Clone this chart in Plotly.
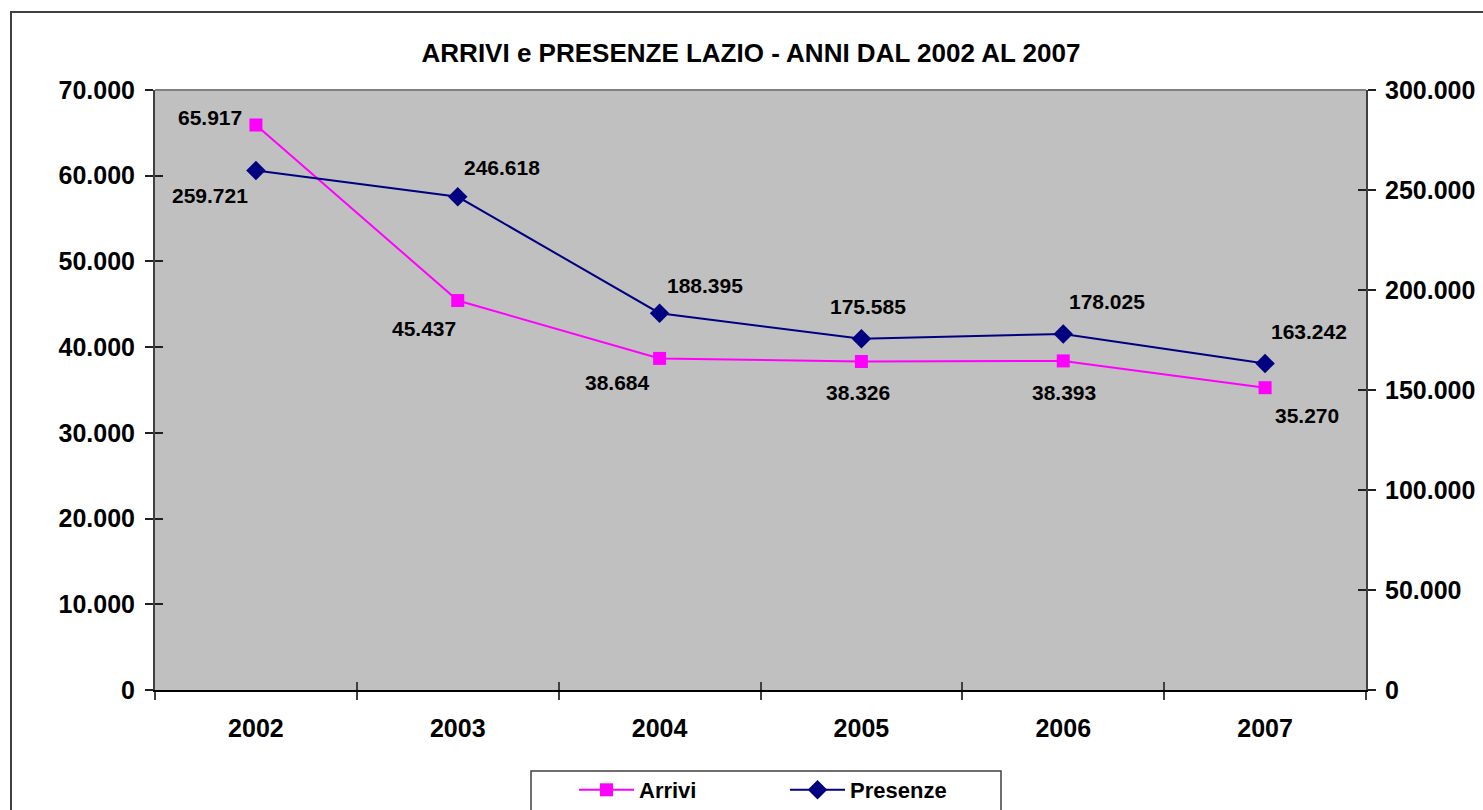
import plotly.graph_objects as go

anni = ["2002", "2003", "2004", "2005", "2006", "2007"]
arrivi = [65917, 45437, 38684, 38326, 38393, 35270]
presenze = [259721, 246618, 188395, 175585, 178025, 163242]

# label offsets (px) for data labels
arrivi_off = [(-46, 8), (-34, -28), (-42, -24), (-3, -31), (1, -32), (42, -28)]
presenze_off = [(-46, -25), (44, 29), (45, 28), (7, 32), (44, 32), (44, 32)]

FONT = "Liberation Sans, Arial, sans-serif"

def fmt(v):
    return f"{v:,}".replace(",", ".")

fig = go.Figure()
fig.add_trace(go.Scatter(
    x=anni, y=arrivi, name="Arrivi", mode="lines+markers",
    line=dict(color="#FF00FF", width=2),
    marker=dict(symbol="square", size=13, color="#FF00FF"),
    yaxis="y", xaxis="x",
))
fig.add_trace(go.Scatter(
    x=anni, y=presenze, name="Presenze", mode="lines+markers",
    line=dict(color="#000080", width=2),
    marker=dict(symbol="diamond", size=15, color="#000080"),
    yaxis="y2", xaxis="x",
))
# empty helper traces that activate the inner-tick overlay axes
fig.add_trace(go.Scatter(x=[None], y=[None], xaxis="x2", yaxis="y3",
                         showlegend=False, hoverinfo="skip"))
fig.add_trace(go.Scatter(x=[None], y=[None], xaxis="x2", yaxis="y4",
                         showlegend=False, hoverinfo="skip"))

# data labels: x given as category serial index on the category axis
for i, (v, (dx, dy)) in enumerate(zip(arrivi, arrivi_off)):
    fig.add_annotation(x=i, y=v, xref="x", yref="y", text="<b>" + fmt(v) + "</b>",
                       showarrow=False, xshift=dx, yshift=dy,
                       font=dict(family=FONT, size=21, color="black"))
for i, (v, (dx, dy)) in enumerate(zip(presenze, presenze_off)):
    fig.add_annotation(x=i, y=v, xref="x", yref="y2", text="<b>" + fmt(v) + "</b>",
                       showarrow=False, xshift=dx, yshift=dy,
                       font=dict(family=FONT, size=21, color="black"))

tickfont = dict(family=FONT, size=25, color="black", weight="bold")
n = len(anni)
bounds = [i - 0.5 for i in range(n + 1)]

fig.update_layout(
    width=1483, height=810,
    margin=dict(l=155, r=117, t=90, b=120, autoexpand=False),
    paper_bgcolor="white",
    plot_bgcolor="#C0C0C0",
    separators=",.",
    title=dict(text="<b>ARRIVI e PRESENZE LAZIO - ANNI DAL 2002 AL 2007</b>",
               x=0.5064, xanchor="center", y=1 - 53 / 810, yanchor="middle",
               font=dict(family=FONT, size=26, color="black")),
    xaxis=dict(type="category", tickson="boundaries", ticks="outside", ticklen=8,
               tickcolor="#404040", tickwidth=1.5,
               showline=True, linecolor="black", linewidth=2, showgrid=False,
               zeroline=False, tickfont=tickfont, ticklabelstandoff=15,
               range=[-0.5, n - 0.5]),
    xaxis2=dict(range=[-0.5, n - 0.5], tickvals=bounds, ticks="inside", ticklen=8,
                tickcolor="#404040", tickwidth=1.5, overlaying="x", side="bottom",
                anchor="y3", showticklabels=False, showgrid=False, zeroline=False,
                showline=False),
    yaxis=dict(range=[0, 70000], dtick=10000, tickformat=",d", ticks="outside",
               ticklen=8, tickcolor="#202020", tickwidth=1.5,
               showline=True, linecolor="#404040", linewidth=2, showgrid=False,
               zeroline=False, tickfont=tickfont, ticklabelstandoff=5),
    yaxis2=dict(range=[0, 300000], dtick=50000, tickformat=",d", ticks="outside",
                ticklen=8, tickcolor="#202020", tickwidth=1.5,
                overlaying="y", side="right",
                showline=True, linecolor="#404040", linewidth=2, showgrid=False,
                zeroline=False, tickfont=tickfont, ticklabelstandoff=4),
    yaxis3=dict(range=[0, 70000], dtick=10000, ticks="inside", ticklen=8,
                tickcolor="#202020", tickwidth=1.5, overlaying="y", side="left",
                anchor="x2", showticklabels=False, showgrid=False, zeroline=False,
                showline=False),
    yaxis4=dict(range=[0, 300000], dtick=50000, ticks="inside", ticklen=8,
                tickcolor="#202020", tickwidth=1.5, overlaying="y", side="right",
                anchor="x2", showticklabels=False, showgrid=False, zeroline=False,
                showline=False),
    legend=dict(orientation="h", x=(574 - 155) / 1211, xanchor="left",
                y=(690 - 769) / 600, yanchor="top",
                bgcolor="rgba(0,0,0,0)", borderwidth=0,
                font=dict(family=FONT, size=22, color="black", weight="bold"),
                entrywidth=141, entrywidthmode="pixels", itemwidth=55),
    showlegend=True,
)

# plot area top border (gray), legend box and outer chart border
fig.add_shape(type="line", xref="paper", yref="paper", x0=0, x1=1, y0=1, y1=1,
              line=dict(color="#808080", width=2), layer="above")
fig.add_shape(type="rect", xref="paper", yref="paper",
              x0=(531 - 155) / 1211, x1=(1001 - 155) / 1211,
              y0=(690 - 830) / 600, y1=(690 - 771) / 600,
              line=dict(color="#404040", width=1.5), fillcolor="white", layer="below")
fig.add_shape(type="rect", xref="paper", yref="paper",
              x0=(11 - 155) / 1211, x1=(1500 - 155) / 1211,
              y0=(690 - 830) / 600, y1=(690 - 12) / 600,
              line=dict(color="#404040", width=2), fillcolor="rgba(0,0,0,0)", layer="below")

fig.write_html("out.html", config={"displayModeBar": False},
               post_script="document.body.style.margin='0px';")
